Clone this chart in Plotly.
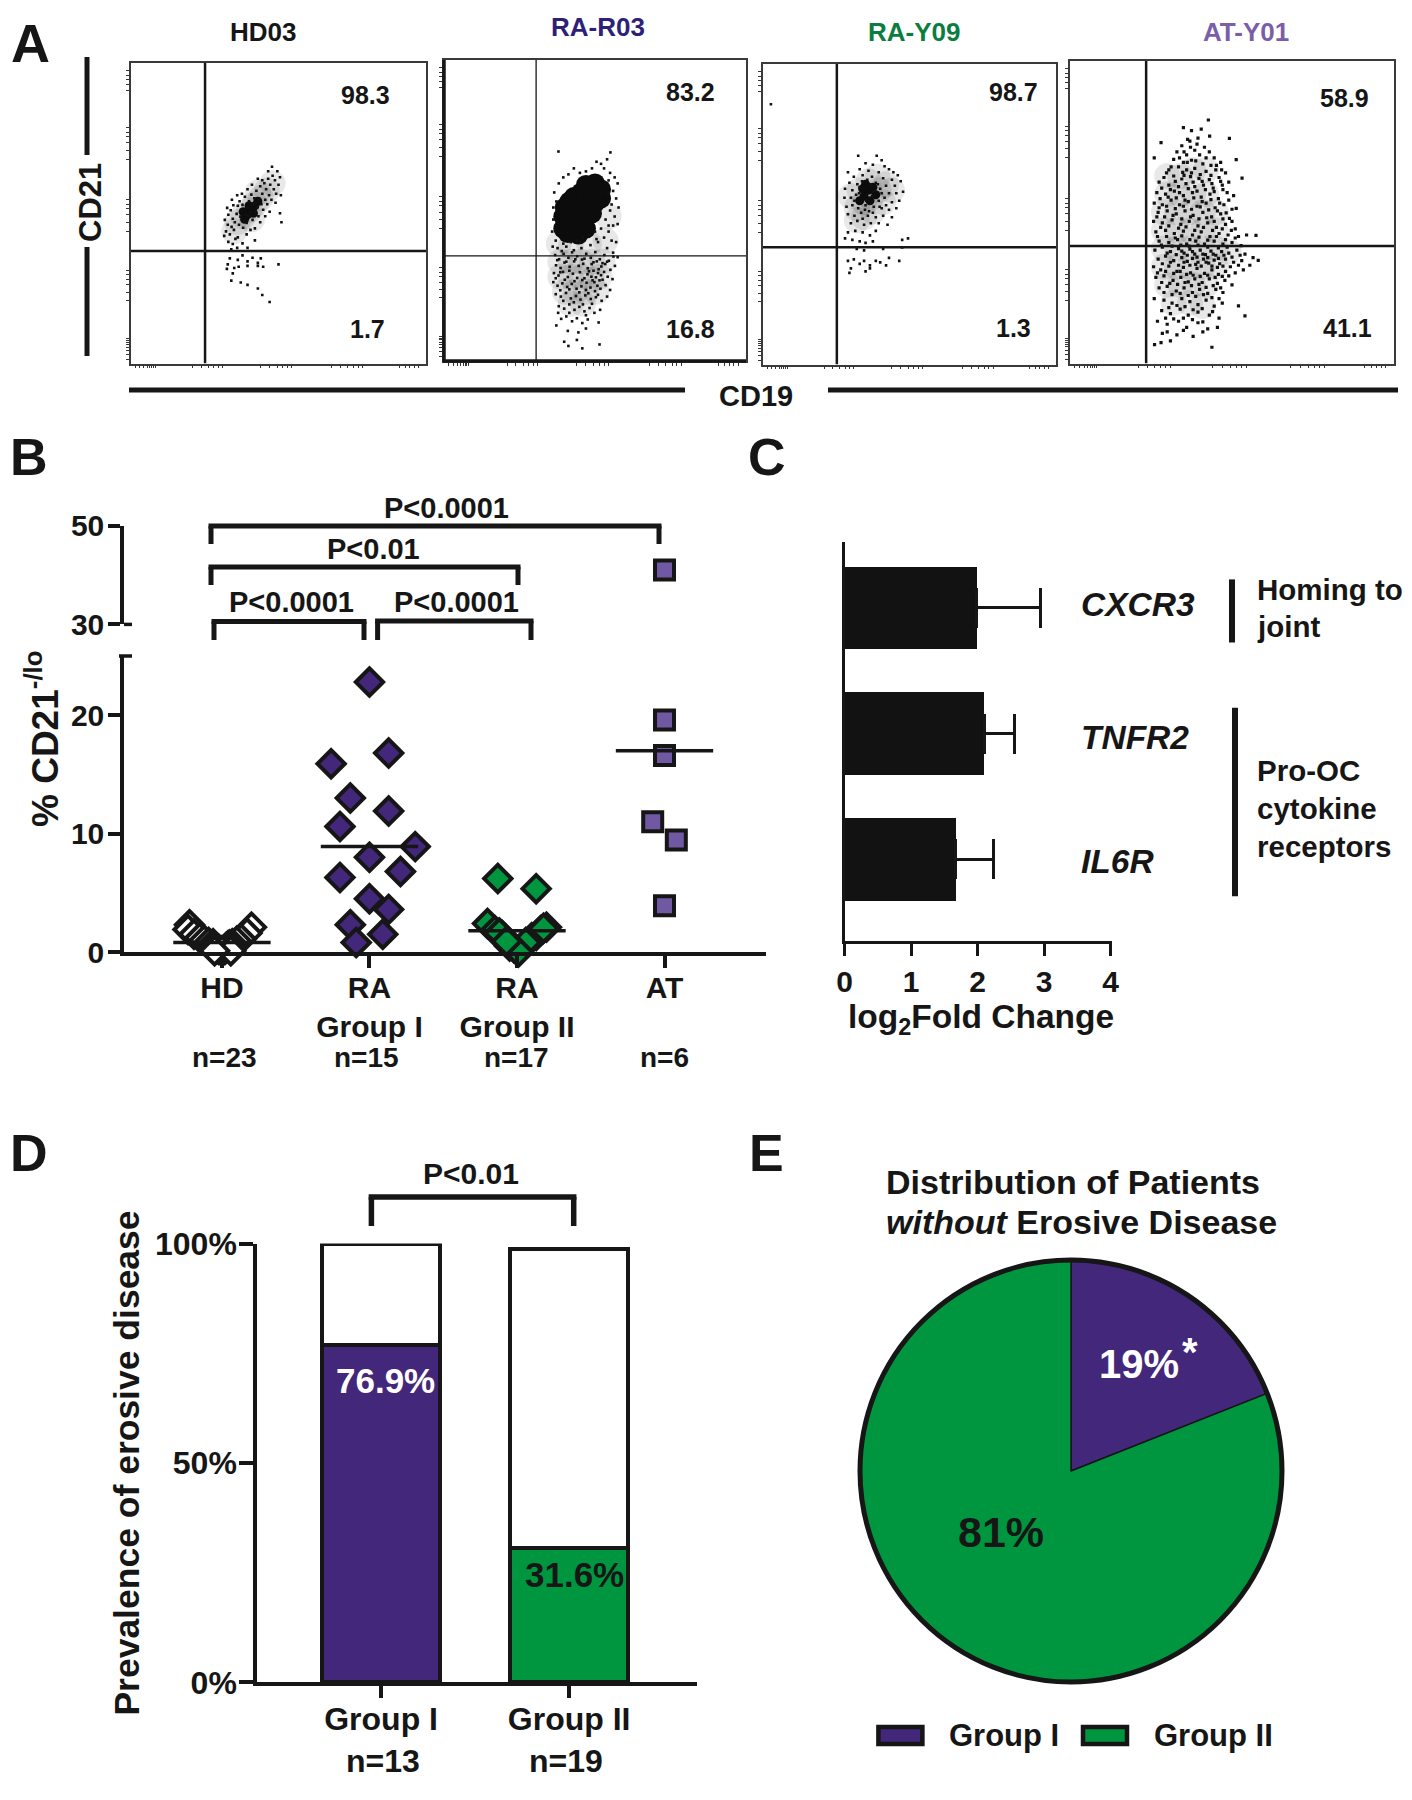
import plotly.graph_objects as go

# the page keeps the browser's 8px body margin, so the figure is sized to fit inside it
PAGE_W = 1412
PAGE_H = 1800
BODY = 8
W = PAGE_W - BODY
H = PAGE_H - BODY

PURPLE = "#43277a"
GREEN = "#00963f"
AT_PURPLE = "#7158a3"
INK = "#161616"
FONT = "Liberation Sans"

# panel A, flow channels (x, y on a 0-1000 scale)
flow_names = ["HD03", "RA-R03", "RA-Y09", "AT-Y01"]
flow_colors = [INK, "#2e1f78", "#0b7d3f", "#7a5fa8"]
upper_pct = ["98.3", "83.2", "98.7", "58.9"]
lower_pct = ["1.7", "16.8", "1.3", "41.1"]
gate_x = [251, 305, 252, 235]
gate_y = [375, 349, 390, 389]
flow_ticks = [14, 30, 44, 55, 63, 70, 76, 82, 210, 238, 262, 280, 295, 310, 440, 470, 495, 515, 530, 545,
              680, 710, 735, 755, 770, 785, 910, 930, 945, 960, 975]

hd03_haze = [(360, 470), (380, 490), (400, 510), (420, 530), (440, 550), (460, 575), (480, 600), (350, 440),
             (410, 480), (430, 570)]
hd03_core = [(395, 495), (405, 510), (420, 525), (385, 480), (430, 540), (415, 500), (400, 525), (380, 505)]
hd03_dots = [(322, 440), (328, 462), (318, 478), (335, 430), (341, 455), (330, 495), (345, 482), (338, 510),
             (352, 470), (349, 445), (358, 498), (362, 525), (354, 415), (366, 462), (371, 489), (347, 527),
             (375, 510), (368, 540), (380, 452), (384, 475), (378, 528), (390, 495), (386, 555), (395, 520),
             (392, 468), (400, 540), (398, 492), (405, 505), (408, 562), (412, 478), (415, 530), (418, 550),
             (420, 505), (425, 575), (428, 520), (432, 490), (435, 548), (438, 590), (442, 530), (445, 565),
             (448, 512), (452, 600), (455, 545), (458, 580), (462, 530), (465, 615), (468, 560), (472, 595),
             (476, 545), (480, 625), (484, 580), (488, 610), (492, 565), (496, 640), (500, 595), (505, 620),
             (465, 640), (478, 655), (445, 610), (430, 615), (410, 595), (395, 580), (376, 565), (360, 560),
             (342, 545), (326, 518), (316, 425), (330, 405), (345, 398), (362, 420), (378, 400), (392, 430),
             (405, 445), (420, 450), (438, 470), (455, 490), (470, 505), (490, 535), (508, 560), (505, 500),
             (510, 470), (420, 410), (395, 385), (360, 385), (340, 380), (335, 350), (362, 345), (378, 360),
             (395, 340), (412, 352), (430, 335), (440, 350), (328, 330), (350, 318), (365, 322), (395, 325),
             (430, 325), (448, 322), (325, 315), (345, 300), (372, 270), (340, 276), (395, 262), (430, 250),
             (445, 228), (470, 205), (500, 330)]

ra_r03_haze = [(385, 330), (420, 330), (455, 330), (490, 330), (525, 330), (385, 280), (420, 280), (455, 280),
               (490, 270), (515, 280), (400, 230), (435, 230), (470, 230), (505, 230), (420, 190), (460, 190),
               (535, 400), (545, 480), (380, 390), (420, 380), (480, 390)]
ra_r03_core = [(420, 450), (435, 480), (450, 510), (470, 540), (490, 570), (440, 440), (465, 470), (485, 510),
               (505, 545), (405, 470), (425, 510), (445, 550), (470, 585), (395, 440), (410, 425), (500, 590),
               (395, 480), (520, 570), (520, 540), (400, 510), (470, 440), (445, 420), (455, 560), (480, 575),
               (430, 470), (415, 465), (500, 525), (455, 480), (475, 510), (440, 520), (460, 540), (510, 570),
               (420, 480), (495, 560), (415, 530), (430, 545), (490, 490)]
ra_r03_dots = [(379, 696), (551, 693), (540, 670), (520, 655), (505, 662), (490, 640), (530, 640), (550, 625),
               (565, 610), (575, 590), (545, 600), (560, 565), (570, 540), (578, 510), (555, 520), (565, 480),
               (560, 450), (575, 455), (545, 430), (555, 400), (570, 395), (540, 375), (560, 360), (575, 345),
               (365, 560), (372, 530), (362, 510), (380, 590), (395, 610), (412, 620), (430, 640), (450, 625),
               (470, 630), (362, 470), (358, 430), (370, 400), (360, 380), (376, 375), (390, 365), (405, 380),
               (420, 395), (440, 400), (460, 410), (480, 420), (500, 430), (520, 440), (535, 470), (530, 410),
               (510, 395), (485, 385), (455, 375), (430, 368), (368, 352), (381, 338), (396, 356), (412, 343),
               (424, 361), (441, 348), (457, 337), (471, 356), (486, 343), (501, 362), (516, 338), (531, 352),
               (546, 333), (561, 347), (371, 318), (386, 309), (399, 327), (416, 313), (431, 331), (446, 316),
               (461, 323), (476, 308), (489, 322), (506, 331), (521, 314), (534, 322), (551, 303), (566, 316),
               (495, 300), (510, 292), (503, 278), (515, 268), (498, 262), (508, 250), (520, 285), (488, 280),
               (475, 288), (530, 296), (542, 280), (558, 272), (364, 292), (379, 284), (394, 296), (410, 279),
               (427, 290), (441, 276), (458, 269), (472, 260), (362, 262), (376, 250), (392, 258), (408, 246),
               (423, 256), (439, 240), (455, 248), (470, 236), (485, 244), (500, 232), (518, 240), (535, 252),
               (550, 236), (370, 222), (387, 214), (404, 226), (420, 208), (437, 216), (452, 204), (468, 218),
               (486, 206), (503, 212), (522, 200), (540, 214), (380, 182), (398, 174), (415, 188), (432, 170),
               (448, 180), (465, 165), (482, 176), (498, 160), (517, 170), (388, 140), (405, 148), (424, 132),
               (440, 142), (458, 126), (476, 138), (512, 128), (372, 118), (410, 100), (445, 95), (470, 108),
               (398, 64), (412, 50), (458, 42), (515, 55), (440, 70), (375, 335), (405, 330), (435, 338),
               (465, 340), (495, 328), (525, 325), (385, 295), (415, 300), (450, 295), (480, 298), (512, 305),
               (370, 275), (400, 270), (432, 265), (465, 275), (492, 268), (525, 270), (385, 235), (415, 238),
               (448, 228), (478, 225), (510, 220), (395, 200), (430, 195), (460, 188), (490, 190), (378, 160),
               (415, 160), (470, 152), (540, 330), (395, 390), (450, 395), (505, 405), (545, 450), (550, 500),
               (545, 560)]

ra_y09_haze = [(320, 520), (345, 540), (370, 555), (395, 580), (420, 600), (330, 580), (360, 610), (390, 625),
               (320, 480), (345, 490), (375, 510), (410, 540), (300, 560), (440, 580)]
ra_y09_core = [(345, 560), (360, 580), (375, 590), (330, 545), (350, 600), (385, 565), (365, 545), (340, 585)]
ra_y09_dots = [(27, 866), (290, 640), (325, 695), (388, 695), (405, 680), (350, 670), (375, 665), (415, 660),
               (330, 650), (360, 645), (395, 640), (430, 650), (445, 640), (310, 625), (340, 630), (372, 625),
               (410, 620), (440, 615), (460, 630), (295, 605), (322, 600), (385, 605), (420, 595), (450, 595),
               (470, 610), (280, 585), (305, 580), (330, 590), (400, 585), (430, 570), (455, 570), (478, 575),
               (278, 555), (300, 555), (318, 565), (372, 560), (395, 545), (415, 555), (440, 540), (465, 545),
               (285, 525), (305, 530), (325, 520), (350, 530), (378, 525), (405, 520), (430, 515), (455, 520),
               (290, 500), (312, 495), (335, 505), (358, 495), (385, 490), (410, 495), (440, 490), (300, 470),
               (322, 478), (345, 465), (368, 470), (395, 470), (425, 465), (290, 440), (315, 445), (340, 440),
               (365, 430), (385, 445), (280, 420), (305, 415), (330, 410), (350, 405), (375, 410), (475, 415),
               (495, 420), (352, 545), (368, 600), (382, 578), (392, 600), (338, 610), (356, 615), (328, 570),
               (312, 545), (405, 570), (420, 530), (398, 525), (362, 510), (340, 485), (348, 515), (375, 505),
               (320, 385), (345, 380), (410, 385), (475, 390), (290, 345), (310, 350), (330, 335), (345, 345),
               (365, 330), (385, 345), (400, 340), (430, 355), (465, 345), (300, 320), (350, 310), (365, 320),
               (420, 330), (295, 305)]

at_y01_haze = [(300, 620), (340, 620), (380, 640), (420, 640), (300, 560), (340, 560), (380, 560), (420, 560),
               (290, 500), (330, 500), (370, 500), (410, 500), (450, 500), (290, 440), (330, 440), (370, 440),
               (410, 440), (450, 440), (290, 380), (330, 380), (370, 380), (410, 380), (450, 380), (490, 370),
               (290, 320), (330, 320), (370, 320), (410, 320), (450, 320), (300, 260), (340, 260), (380, 260),
               (420, 260), (320, 200), (370, 200), (410, 190)]
at_y01_core = []
at_y01_dots = [(427, 805), (363, 741), (431, 752), (492, 744), (281, 730), (260, 680), (513, 674), (531, 613),
               (513, 513), (540, 158), (520, 191), (438, 54), (261, 63), (281, 69), (581, 341), (574, 424),
               (350, 780), (375, 770), (405, 775), (395, 745), (370, 735), (345, 720), (415, 715), (385, 705),
               (330, 700), (360, 690), (400, 690), (430, 700), (445, 680), (320, 675), (350, 665), (375, 672),
               (410, 660), (435, 655), (465, 665), (305, 640), (335, 650), (360, 640), (385, 645), (420, 635),
               (450, 640), (480, 630), (290, 615), (320, 620), (345, 610), (372, 618), (398, 612), (430, 608),
               (460, 615), (490, 600), (275, 600), (305, 590), (335, 585), (358, 595), (385, 585), (412, 590),
               (442, 580), (470, 590), (268, 565), (295, 560), (322, 570), (350, 555), (378, 565), (405, 550),
               (432, 560), (458, 545), (485, 565), (505, 555), (260, 530), (285, 525), (312, 540), (338, 525),
               (365, 535), (392, 520), (420, 530), (448, 515), (475, 525), (500, 510), (272, 500), (300, 505),
               (328, 495), (355, 505), (380, 490), (410, 500), (437, 485), (465, 495), (492, 480), (258, 470),
               (285, 465), (315, 475), (342, 460), (368, 470), (395, 455), (425, 465), (452, 450), (480, 460),
               (510, 445), (265, 435), (295, 440), (322, 430), (350, 438), (378, 425), (405, 435), (432, 420),
               (460, 430), (488, 425), (520, 420), (545, 425), (275, 405), (305, 400), (332, 410), (360, 395),
               (388, 405), (415, 395), (445, 405), (472, 395), (500, 400), (262, 375), (285, 385), (310, 370),
               (335, 380), (352, 365), (370, 378), (385, 362), (402, 375), (418, 360), (435, 372), (450, 358),
               (468, 370), (490, 365), (515, 375), (540, 362), (565, 350), (272, 345), (295, 355), (320, 340),
               (345, 350), (362, 338), (378, 348), (395, 335), (412, 345), (428, 332), (445, 342), (462, 330),
               (480, 345), (505, 335), (530, 340), (555, 325), (258, 320), (280, 310), (305, 322), (330, 305),
               (350, 318), (372, 300), (392, 315), (415, 298), (438, 310), (458, 295), (480, 305), (510, 300),
               (535, 310), (265, 285), (290, 290), (318, 275), (342, 285), (365, 270), (385, 280), (408, 268),
               (430, 280), (455, 265), (478, 275), (500, 260), (275, 250), (300, 255), (328, 240), (352, 250),
               (378, 235), (400, 245), (425, 232), (450, 245), (472, 235), (260, 215), (290, 210), (315, 200),
               (345, 215), (370, 205), (395, 195), (420, 210), (445, 190), (470, 200), (283, 175), (310, 165),
               (340, 180), (365, 160), (395, 170), (430, 160), (460, 150), (270, 140), (300, 130), (335, 140),
               (360, 120), (395, 135), (425, 115), (455, 120), (285, 100), (330, 95), (380, 90), (410, 105),
               (310, 75), (352, 700), (372, 715), (392, 725), (338, 680), (362, 665), (388, 670), (420, 680),
               (452, 655), (312, 650), (348, 632), (375, 630), (402, 625), (435, 622), (468, 640), (298, 630),
               (325, 602), (352, 622), (380, 600), (408, 602), (438, 595), (465, 602), (283, 580), (310, 575),
               (338, 565), (365, 578), (392, 570), (418, 575), (445, 568), (472, 575), (278, 545), (303, 550),
               (328, 548), (355, 540), (382, 548), (408, 535), (435, 542), (462, 530), (490, 540), (275, 515),
               (298, 520), (325, 512), (350, 520), (375, 510), (402, 518), (428, 508), (455, 505), (482, 498),
               (268, 485), (292, 485), (318, 490), (345, 478), (372, 485), (398, 478), (422, 482), (445, 470),
               (472, 478), (500, 470), (280, 450), (305, 455), (335, 448), (358, 452), (385, 440), (412, 450),
               (440, 440), (470, 445), (498, 440), (270, 420), (298, 420), (325, 415), (345, 422), (370, 410),
               (398, 418), (425, 408), (452, 420), (480, 410), (510, 415), (282, 392), (315, 388), (342, 392),
               (368, 388), (395, 392), (425, 385), (458, 382), (485, 385), (528, 390), (300, 365), (328, 360),
               (345, 372), (362, 358), (378, 370), (392, 352), (410, 362), (425, 350), (442, 362), (458, 348),
               (475, 358), (500, 352), (525, 358), (285, 330), (310, 335), (335, 325), (352, 335), (370, 325),
               (388, 328), (405, 322), (420, 335), (438, 322), (455, 318), (472, 322), (495, 320), (520, 325),
               (270, 300), (295, 305), (320, 298), (340, 305), (360, 295), (380, 292), (402, 288), (425, 292),
               (448, 285), (470, 288), (490, 290), (283, 268), (308, 265), (332, 262), (355, 268), (375, 258),
               (398, 262), (420, 252), (442, 258), (465, 250), (290, 235), (315, 228), (340, 232), (365, 225),
               (388, 222), (412, 228), (438, 218), (460, 215), (305, 185), (330, 192), (355, 188), (380, 178),
               (408, 182), (440, 172), (295, 150), (320, 148), (350, 150), (378, 145), (410, 138), (300, 105),
               (350, 110)]

flow_haze = [hd03_haze, ra_r03_haze, ra_y09_haze, at_y01_haze]
flow_core = [hd03_core, ra_r03_core, ra_y09_core, at_y01_core]
flow_dots = [hd03_dots, ra_r03_dots, ra_y09_dots, at_y01_dots]

# panel B
scatter_cats = ["HD", "RA<br>Group I", "RA<br>Group II", "AT"]
scatter_n = ["n=23", "n=15", "n=17", "n=6"]
hd_x = [0.78, 0.77, 1.20, 1.17, 0.81, 0.85, 1.13, 0.88, 1.10, 0.91, 1.07, 0.94, 1.05, 0.95, 1.04, 1.03, 0.97,
        1.06, 1.02, 0.98, 1.00, 1.06, 0.95]
hd_y = [2.3, 1.9, 2.1, 1.6, 1.5, 1.2, 1.1, 1.0, 0.9, 0.8, 0.7, 0.7, 0.6, 0.5, 0.5, 0.4, 0.3, 0.3, 0.2, 0.2, 0.1,
        0.1, 0.1]
group1_x = [2.00, 1.74, 2.13, 1.87, 2.13, 1.80, 2.31, 2.00, 1.80, 2.21, 2.00, 2.13, 1.87, 2.09, 1.91]
group1_y = [22.8, 15.9, 16.8, 13.0, 11.9, 10.6, 8.9, 8.0, 6.3, 6.8, 4.5, 3.6, 2.3, 1.5, 0.8]
group2_x = [2.87, 3.13, 2.80, 3.20, 3.16, 2.85, 2.90, 3.13, 2.92, 3.10, 2.95, 3.06, 2.98, 3.01, 2.88, 2.93, 3.18]
group2_y = [6.2, 5.35, 2.4, 2.1, 1.8, 1.8, 1.4, 1.4, 1.1, 1.2, 0.5, 0.8, 0.35, 0.0, 1.6, 0.9, 2.0]
at_x = [3.92, 4.08, 4.00, 4.00, 4.00]
at_y = [11.0, 9.45, 19.6, 16.6, 3.9]
at_high_x = [4.00]
at_high_y = [41.0]
center_lines = [0.8, 8.9, 1.8, 17.0]

# panel C
genes = ["CXCR3", "TNFR2", "IL6R"]
fold_change = [1.99, 2.10, 1.67]
fold_error = [0.95, 0.45, 0.57]

# panel D, bar heights as drawn in the picture
prev_groups = ["Group I", "Group II"]
prev_n = ["n=13", "n=19"]
prev_erosive = [76.9, 30.7]
prev_rest = [23.1, 68.0]
prev_labels = ["76.9%", "31.6%"]

# panel E
pie_labels = ["Group I", "Group II"]
pie_values = [19, 81]


def px(x):
    return (x - BODY) / W


def py(y):
    return 1 - (y - BODY) / H


def dom_x(left, right):
    return [px(left), px(right)]


def dom_y(top, bottom):
    return [py(bottom), py(top)]


notes = []
shapes = []


def note(x, y, text, size=30, color=INK, anchor="center", angle=0):
    notes.append(dict(x=px(x), y=py(y), xref="paper", yref="paper", text=text, showarrow=False, xanchor=anchor,
                      yanchor="middle", textangle=angle, font=dict(family=FONT, size=size, color=color, weight=700)))


def stroke(x0, y0, x1, y1, width=5):
    shapes.append(dict(type="line", xref="paper", yref="paper", x0=px(x0), y0=py(y0), x1=px(x1), y1=py(y1),
                       line=dict(color=INK, width=width)))


def bracket(left, right, top, drop, width=5):
    stroke(left, drop, left, top, width)
    stroke(left - width / 2, top, right + width / 2, top, width)
    stroke(right, top, right, drop, width)


fig = go.Figure()
layout = {}

# ---- A: flow plots
flow_boxes = [(131, 426, 63, 363.6), (444, 746, 60, 361), (763, 1056, 64, 364.6), (1070, 1394, 61, 363.6)]
flow_gate_width = [2.5, 1.3, 2.5, 2.5]
flow_dot_size = [2.6, 2.6, 2.6, 3.2]
flow_title_pos = [(263, 32), (598, 27.5), (914, 32), (1246, 32)]
upper_pos = [(365, 95), (690, 92), (1013, 92), (1344, 98)]
lower_pos = [(367, 329), (690, 329), (1013, 328), (1347, 328)]

for i in range(4):
    n = i + 1
    left, right, top, bottom = flow_boxes[i]
    ax = dict(range=[0, 1000], showgrid=False, zeroline=False, showline=True, mirror=True, linewidth=1.6,
              linecolor="#3a3a3a", ticks="outside", ticklen=3, tickwidth=1, tickcolor="#333", tickvals=flow_ticks,
              showticklabels=False)
    layout["xaxis%d" % n] = dict(ax, domain=dom_x(left, right), anchor="y%d" % n)
    layout["yaxis%d" % n] = dict(ax, domain=dom_y(top, bottom), anchor="x%d" % n)
    xa, ya = "x%d" % n, "y%d" % n
    fig.add_trace(go.Scatter(x=[p[0] for p in flow_haze[i]], y=[p[1] for p in flow_haze[i]], mode="markers",
                             xaxis=xa, yaxis=ya, showlegend=False, hoverinfo="skip",
                             marker=dict(color="#000", size=26, opacity=0.09, line=dict(width=0))))
    if flow_core[i]:
        fig.add_trace(go.Scatter(x=[p[0] for p in flow_core[i]], y=[p[1] for p in flow_core[i]], mode="markers",
                                 xaxis=xa, yaxis=ya, showlegend=False,
                                 marker=dict(color="#0c0c0c", size=20 if i == 1 else 9, line=dict(width=0))))
    fig.add_trace(go.Scatter(x=[p[0] for p in flow_dots[i]], y=[p[1] for p in flow_dots[i]], mode="markers",
                             xaxis=xa, yaxis=ya, showlegend=False,
                             marker=dict(color="#111", size=flow_dot_size[i], symbol="square", line=dict(width=0))))
    fig.add_trace(go.Scatter(x=[gate_x[i], gate_x[i]], y=[0, 1000], mode="lines", xaxis=xa, yaxis=ya,
                             showlegend=False, line=dict(color=INK, width=flow_gate_width[i])))
    fig.add_trace(go.Scatter(x=[0, 1000], y=[gate_y[i], gate_y[i]], mode="lines", xaxis=xa, yaxis=ya,
                             showlegend=False, line=dict(color=INK, width=flow_gate_width[i])))
    note(flow_title_pos[i][0], flow_title_pos[i][1], flow_names[i], 26, flow_colors[i])
    note(upper_pos[i][0], upper_pos[i][1], upper_pct[i], 25)
    note(lower_pos[i][0], lower_pos[i][1], lower_pct[i], 25)

stroke(444, 60, 444, 362, 3.5)
stroke(443, 361, 746, 361, 3.5)
stroke(87, 57, 87, 155, 5)
stroke(87, 247, 87, 356, 5)
stroke(129, 390, 685, 390, 5)
stroke(828, 390, 1398, 390, 5)
note(90, 203, "CD21", 31, angle=-90)
note(756, 396, "CD19", 29)

# ---- B: scatter with a broken y axis
xb = dict(domain=dom_x(124, 766), range=[0.336, 4.688], anchor="y5", showgrid=False, zeroline=False, showline=True,
          linewidth=3.5, linecolor=INK, ticks="outside", ticklen=12, tickwidth=3.5, tickcolor=INK,
          ticklabelstandoff=-6, tickvals=[1, 2, 3, 4], ticktext=scatter_cats,
          tickfont=dict(family=FONT, size=30, color=INK, weight=700))
layout["xaxis5"] = xb
yfont = dict(family=FONT, size=30, color=INK, weight=700)
layout["yaxis5"] = dict(domain=dom_y(656, 952), range=[0, 25], anchor="x5", showgrid=False, zeroline=False,
                        showline=True, linewidth=3.5, linecolor=INK, ticks="outside", ticklen=12, tickwidth=3.5,
                        tickcolor=INK, ticklabelstandoff=-2, tickvals=[0, 10, 20], tickfont=yfont)
layout["yaxis6"] = dict(domain=dom_y(525.5, 624.4), range=[30, 50], anchor="x5", showgrid=False, zeroline=False,
                        showline=True, linewidth=3.5, linecolor=INK, ticks="outside", ticklen=12, tickwidth=3.5,
                        tickcolor=INK, ticklabelstandoff=-2, tickvals=[30, 50], tickfont=yfont)


def dots(x, y, fill, symbol, size, yaxis="y5"):
    return go.Scatter(x=x, y=y, mode="markers", xaxis="x5", yaxis=yaxis, showlegend=False, cliponaxis=False,
                      marker=dict(color=fill, symbol=symbol, size=size, line=dict(color=INK, width=4)))


fig.add_trace(dots(hd_x, hd_y, "white", "diamond", 21))
fig.add_trace(dots(group1_x, group1_y, PURPLE, "diamond", 21))
fig.add_trace(dots(group2_x, group2_y, GREEN, "diamond", 21))
fig.add_trace(dots(at_x, at_y, AT_PURPLE, "square", 19))
fig.add_trace(dots(at_high_x, at_high_y, AT_PURPLE, "square", 19, "y6"))
for i, level in enumerate(center_lines):
    fig.add_trace(go.Scatter(x=[i + 0.67, i + 1.33], y=[level, level], mode="lines", xaxis="x5", yaxis="y5",
                             showlegend=False, line=dict(color=INK, width=3.5)))

stroke(124, 624.4, 132, 624.4, 3.5)
stroke(119, 656, 132, 656, 3.5)
bracket(211, 659, 526, 544)
bracket(211, 518, 567, 585)
bracket(214, 364, 621.5, 640)
bracket(377.6, 531, 621, 640)
note(446, 508, "P&lt;0.0001", 29)
note(373, 549, "P&lt;0.01", 29)
note(291, 602, "P&lt;0.0001", 29)
note(456.6, 602, "P&lt;0.0001", 29)
note(42, 739, "% CD21<sup>-/lo</sup>", 37, angle=-90)
for label, cx in zip(scatter_n, [224, 366, 516, 664]):
    note(cx, 1057, label, 28)

# ---- C: fold change bars
layout["xaxis7"] = dict(domain=dom_x(844.6, 1112), range=[0, 4.02], anchor="y7", showgrid=False, zeroline=False,
                        showline=True, linewidth=3, linecolor=INK, ticks="outside", ticklen=12, tickwidth=3,
                        tickcolor=INK, tickvals=[0, 1, 2, 3, 4], tickfont=yfont)
layout["yaxis7"] = dict(domain=dom_y(541.5, 941), range=[2.651, -0.529], anchor="x7", showgrid=False, zeroline=False,
                        showline=True, linewidth=3, linecolor=INK, ticks="", showticklabels=False)
fig.add_trace(go.Bar(x=fold_change, y=[0, 1, 2], orientation="h", width=0.66, xaxis="x7", yaxis="y7", showlegend=False,
                     marker=dict(color="#121212", line=dict(width=0)),
                     error_x=dict(type="data", array=fold_error, symmetric=False, color=INK, thickness=3, width=20)))
for i, gene in enumerate(genes):
    notes.append(dict(x=3.53, y=i, xref="x7", yref="y7", text="<i>%s</i>" % gene, showarrow=False, xanchor="left",
                      yanchor="middle", yshift=[3, -4, -2][i], font=dict(family=FONT, size=33.5, color=INK, weight=700)))
note(981, 1019, "log<sub>2</sub>Fold Change", 33.5)
stroke(1232, 579.4, 1232, 642.5, 6)
stroke(1235, 707.8, 1235, 896.3, 6)
note(1255, 589, "Homing to", 29.5, anchor="left")
note(1255, 626.5, "joint", 29.5, anchor="left")
note(1255, 770, "Pro-OC", 29.5, anchor="left")
note(1255, 808, "cytokine", 29.5, anchor="left")
note(1255, 846, "receptors", 29.5, anchor="left")

# ---- D: stacked prevalence bars
layout["xaxis8"] = dict(domain=dom_x(257, 697), range=[-0.66, 1.68], anchor="y8", showgrid=False, zeroline=False,
                        showline=True, linewidth=3.5, linecolor=INK, ticks="outside", ticklen=12, tickwidth=3.5,
                        tickcolor=INK, ticklabelstandoff=-7, tickvals=[0, 1], ticktext=prev_groups,
                        tickfont=dict(family=FONT, size=32, color=INK, weight=700))
layout["yaxis8"] = dict(domain=dom_y(1243.6, 1682.4), range=[0, 100], anchor="x8", showgrid=False, zeroline=False,
                        showline=True, linewidth=3.5, linecolor=INK, ticks="outside", ticklen=14, tickwidth=3.5,
                        tickcolor=INK, ticklabelstandoff=-4, tickvals=[0, 50, 100], ticktext=["0%", "50%", "100%"],
                        tickfont=dict(family=FONT, size=32, color=INK, weight=700))
fig.add_trace(go.Bar(x=[0, 1], y=prev_erosive, width=0.628, xaxis="x8", yaxis="y8", showlegend=False,
                     marker=dict(color=[PURPLE, GREEN], line=dict(color=INK, width=4))))
fig.add_trace(go.Bar(x=[0, 1], y=prev_rest, width=0.628, xaxis="x8", yaxis="y8", showlegend=False,
                     marker=dict(color="white", line=dict(color=INK, width=4))))
note(385, 1380, prev_labels[0], 35, "white")
note(574, 1574.5, prev_labels[1], 35, INK)
note(127, 1463.6, "Prevalence of erosive disease", 35.5, angle=-90)
note(383, 1760.5, prev_n[0], 32)
note(566, 1760.5, prev_n[1], 32)
bracket(371.4, 573.7, 1197, 1226, 5.5)
note(471, 1173, "P&lt;0.01", 30)

# ---- E: pie
fig.add_trace(go.Pie(labels=pie_labels, values=pie_values, sort=False, direction="clockwise", rotation=0,
                     domain=dict(x=dom_x(860, 1282), y=dom_y(1260, 1682)), textinfo="none", hoverinfo="label+percent",
                     showlegend=False, marker=dict(colors=[PURPLE, GREEN], line=dict(color=INK, width=1.5))))
shapes.append(dict(type="circle", xref="paper", yref="paper", x0=px(860), x1=px(1282), y0=py(1682), y1=py(1260),
                   line=dict(color=INK, width=5)))
note(1138.6, 1364, "19%", 40, "white")
note(1190, 1352, "*", 40, "white")
note(1000.6, 1532, "81%", 43)
note(883.6, 1181.6, "Distribution of Patients", 34, anchor="left")
note(883.6, 1222, "<i>without</i> Erosive Disease", 34, anchor="left")
for i, (sx, tx) in enumerate([(878.4, 947), (1083, 1152)]):
    shapes.append(dict(type="rect", xref="paper", yref="paper", x0=px(sx), x1=px(sx + 44), y0=py(1744), y1=py(1727),
                       fillcolor=[PURPLE, GREEN][i], line=dict(color=INK, width=4.5)))
    note(tx, 1735.8, pie_labels[i], 31, anchor="left")

# panel letters, kept just inside the figure's left edge
note(30, 43, "A", 54)
note(29, 457, "B", 52)
note(766.6, 457, "C", 52)
note(29, 1152.5, "D", 52)
note(766.6, 1152.5, "E", 52)

fig.update_layout(template="none", width=W, height=H, margin=dict(l=0, r=0, t=0, b=0, autoexpand=False),
                  plot_bgcolor="white", paper_bgcolor="white", barmode="stack",
                  font=dict(family=FONT, color=INK, weight=700), annotations=notes, shapes=shapes, **layout)

fig.write_html("out.html")
